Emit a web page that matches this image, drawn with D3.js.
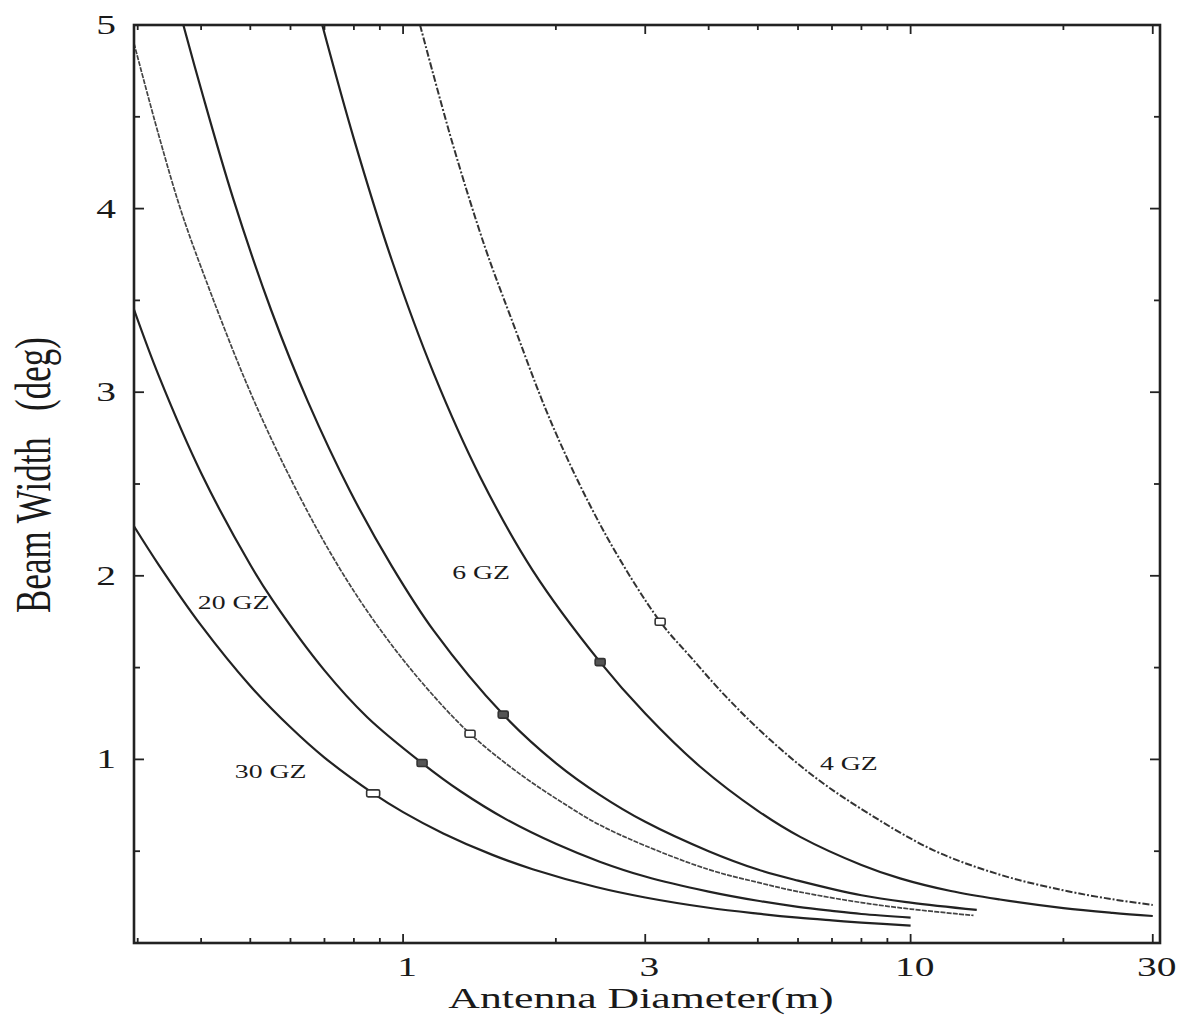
<!DOCTYPE html>
<html><head><meta charset="utf-8">
<script src="https://cdn.jsdelivr.net/npm/d3@7"></script>
<style>html,body{margin:0;padding:0;background:#fff;}svg{display:block;}</style>
</head><body>
<svg id="chart" width="1184" height="1016"></svg>
<script>
// ---- data ----
const seriesNames = ["30 GZ", "20 GZ", "14 GZ", "12 GZ", "6 GZ", "4 GZ"];
const diam30 = [0.295,0.33,0.4,0.5,0.6,0.7,0.873,1,1.2,1.5,1.8,2.4,3,4,5,6,7,8,10];
const beam30 = [2.27,2.06,1.73,1.40,1.175,1.01,0.815,0.713,0.597,0.48,0.402,0.305,0.248,0.192,0.16,0.138,0.123,0.111,0.095];
const diam20 = [0.295,0.33,0.4,0.5,0.554,0.7,0.85,1.09,1.3,1.6,2,2.44,3,4,5,6,7,8,10];
const beam20 = [3.45,3.09,2.56,2.06,1.865,1.485,1.23,0.98,0.825,0.672,0.54,0.443,0.362,0.28,0.23,0.197,0.175,0.158,0.138];
const diam14 = [0.295,0.33,0.364,0.4,0.5,0.618,0.75,0.9,1.1,1.355,1.7,2.1,2.44,3,4,5,6,8,10,13.3];
const beam14 = [4.9,4.4,4.0,3.68,3.0,2.46,2.04,1.71,1.405,1.14,0.92,0.75,0.643,0.53,0.4,0.33,0.28,0.22,0.185,0.15];
const diam12 = [0.369,0.4,0.462,0.55,0.65,0.786,0.95,1.15,1.575,2,2.44,3,4,5,6,8,10,13.5];
const beam12 = [5.0,4.65,4.06,3.445,2.946,2.462,2.053,1.70,1.244,0.98,0.807,0.66,0.5,0.4,0.34,0.26,0.22,0.18];
const diam6 = [0.693,0.8,0.95,1.15,1.418,1.8,2.445,3,3.85,5,6.06,8,9.53,12,15,20,25,30];
const beam6 = [5.0,4.38,3.72,3.1,2.54,2.03,1.53,1.25,0.96,0.72,0.578,0.425,0.352,0.283,0.237,0.19,0.164,0.147];
const diam4 = [1.08,1.25,1.45,1.624,1.976,2.5,3.21,3.68,4.3,5.2,6.5,8.21,11.1,15,20,25,30];
const beam4 = [5.0,4.36,3.79,3.42,2.81,2.23,1.75,1.56,1.35,1.125,0.9,0.71,0.505,0.372,0.287,0.238,0.207];
// marker points (small squares) on each curve
const markerDiam = [0.873, 1.09, 1.355, 1.575, 2.445, 3.21];
const markerBeam = [0.815, 0.98, 1.14, 1.244, 1.53, 1.75];
// curve labels: text, diameter and beam width at the label's left baseline
const labelTexts = ["20 GZ", "30 GZ", "6 GZ", "4 GZ"];
const labelDiam = [0.394, 0.466, 1.25, 6.63];
const labelBeam = [1.82, 0.90, 1.98, 0.943];
const xTickValues = [1, 3, 10, 30];
const xTickLabels = ["1", "3", "10", "30"];
const xMinorTicks = [0.3,0.4,0.5,0.6,0.7,0.8,0.9,2,4,5,6,7,8,9,20];
const yTickValues = [1, 2, 3, 4, 5];
const yTickLabels = ["1", "2", "3", "4", "5"];
const yMinorTicks = [0.5, 1.5, 2.5, 3.5, 4.5];
const xTitle = "Antenna Diameter(m)";
const yTitle = "Beam Width\u00A0\u00A0\u00A0(deg)";

// ---- drawing ----
const svg = d3.select("#chart");
const L = 134, R = 1160, T = 25, B = 943;
const x = d3.scaleLog().domain([0.295, 31]).range([L, R]);
const y = d3.scaleLinear().domain([0, 5]).range([B, T]);
const ink = "#222";
const font = "'Liberation Serif','Times New Roman',serif";
const SX = 1.46; // horizontal stretch of the scanned figure

const series = [
  {d: diam30, b: beam30, w: 2.2, dash: null, c: "#222"},
  {d: diam20, b: beam20, w: 2.2, dash: null, c: "#222"},
  {d: diam14, b: beam14, w: 1.7, dash: "5,1.2", c: "#444"},
  {d: diam12, b: beam12, w: 2.2, dash: null, c: "#222"},
  {d: diam6,  b: beam6,  w: 2.2, dash: null, c: "#222"},
  {d: diam4,  b: beam4,  w: 2.0, dash: "7,2,2,2", c: "#333"}
];
const markerFill = ["#fff", "#555", "#fff", "#555", "#555", "#fff"];

const defs = svg.append("defs");
defs.append("clipPath").attr("id","clip").append("rect")
  .attr("x", L).attr("y", T).attr("width", R - L).attr("height", B - T);

const line = d3.line().x(p => x(p[0])).y(p => y(p[1])).curve(d3.curveCatmullRom.alpha(0.5));
const g = svg.append("g").attr("clip-path", "url(#clip)");
series.forEach((s, i) => {
  const pts = s.d.map((dv, k) => [dv, s.b[k]]);
  g.append("path").datum(pts)
    .attr("d", line)
    .attr("fill", "none")
    .attr("stroke", s.c)
    .attr("stroke-width", s.w)
    .attr("stroke-dasharray", s.dash)
    .attr("data-name", seriesNames[i]);
});

// markers
markerDiam.forEach((dv, i) => {
  const w = i === 0 ? 13 : 10, h = 7;
  svg.append("rect")
    .attr("x", x(dv) - w / 2).attr("y", y(markerBeam[i]) - h / 2)
    .attr("width", w).attr("height", h).attr("rx", 1.5)
    .attr("fill", markerFill[i]).attr("stroke", "#333").attr("stroke-width", 1.6);
});

// frame
svg.append("rect").attr("x", L).attr("y", T).attr("width", R - L).attr("height", B - T)
  .attr("fill", "none").attr("stroke", ink).attr("stroke-width", 2.6);

// ticks (inward on all four sides)
const tickG = svg.append("g").attr("stroke", ink).attr("stroke-width", 1.8);
yTickValues.forEach(v => {
  tickG.append("line").attr("x1", L).attr("x2", L + 10).attr("y1", y(v)).attr("y2", y(v));
  tickG.append("line").attr("x1", R).attr("x2", R - 10).attr("y1", y(v)).attr("y2", y(v));
});
yMinorTicks.forEach(v => {
  tickG.append("line").attr("x1", L).attr("x2", L + 6).attr("y1", y(v)).attr("y2", y(v));
  tickG.append("line").attr("x1", R).attr("x2", R - 6).attr("y1", y(v)).attr("y2", y(v));
});
xTickValues.forEach(v => {
  tickG.append("line").attr("x1", x(v)).attr("x2", x(v)).attr("y1", B).attr("y2", B - 9);
  tickG.append("line").attr("x1", x(v)).attr("x2", x(v)).attr("y1", T).attr("y2", T + 9);
});
xMinorTicks.forEach(v => {
  tickG.append("line").attr("x1", x(v)).attr("x2", x(v)).attr("y1", B).attr("y2", B - 5);
  tickG.append("line").attr("x1", x(v)).attr("x2", x(v)).attr("y1", T).attr("y2", T + 5);
});

function stretchedText(px, py, str, size, anchor, extra) {
  return svg.append("text")
    .attr("transform", `translate(${px},${py}) scale(${SX},1)` + (extra || ""))
    .attr("text-anchor", anchor)
    .attr("font-family", font)
    .attr("font-size", size)
    .attr("fill", "#1a1a1a")
    .text(str);
}

// y tick labels
yTickValues.forEach((v, i) => {
  stretchedText(116, y(v) + 9, yTickLabels[i], 27, "end");
});
// x tick labels
xTickValues.forEach((v, i) => {
  stretchedText(x(v) + 4, 976, xTickLabels[i], 27, "middle");
});
// axis titles
stretchedText(641, 1008, xTitle, 30, "middle");
stretchedText(50, 475, yTitle, 35, "middle", " rotate(-90)");

// curve labels
labelTexts.forEach((t, i) => {
  stretchedText(x(labelDiam[i]), y(labelBeam[i]), t, 19, "start");
});
</script>
</body></html>
